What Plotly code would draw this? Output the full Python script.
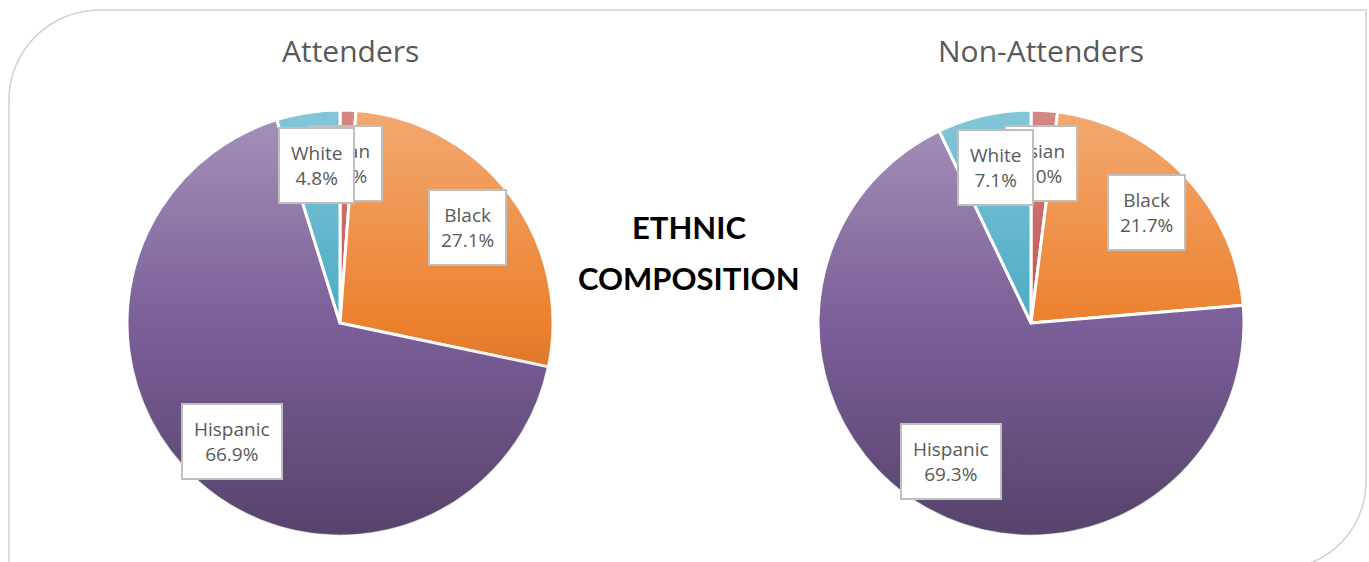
import math
import base64
import plotly.graph_objects as go

W, H = 1369, 562

categories = ["Asian", "Black", "Hispanic", "White"]
attenders = [1.2, 27.1, 66.9, 4.8]
non_attenders = [2.0, 21.7, 69.3, 7.1]
titles = ["Attenders", "Non-Attenders"]
center_title = ["ETHNIC", "COMPOSITION"]
colors = ["#C0504D", "#EC812E", "#7B5F99", "#4AABC6"]

FONT = "'Open Sans', sans-serif"
BOLD_FONT = "Lato, sans-serif"
GRAY = "#595959"

pies = [
    dict(vals=attenders, cx=340, cy=323, r=213, title=titles[0]),
    dict(vals=non_attenders, cx=1031, cy=323, r=213, title=titles[1]),
]

# subtle vertical shading overlay (light top, dark bottom), clipped to the pie circle
svg = (
    '<svg xmlns="http://www.w3.org/2000/svg" viewBox="0 0 100 100" preserveAspectRatio="none">'
    '<defs><linearGradient id="g" x1="0" y1="0" x2="0" y2="1">'
    '<stop offset="0" stop-color="#ffffff" stop-opacity="0.32"/>'
    '<stop offset="0.5" stop-color="#ffffff" stop-opacity="0"/>'
    '<stop offset="0.5" stop-color="#000000" stop-opacity="0"/>'
    '<stop offset="1" stop-color="#000000" stop-opacity="0.30"/>'
    '</linearGradient></defs>'
    '<circle cx="50" cy="50" r="49.8" fill="url(#g)"/></svg>'
)
svg_uri = "data:image/svg+xml;base64," + base64.b64encode(svg.encode()).decode()

fig = go.Figure()
annotations = []
images = []
for p in pies:
    x0, x1 = (p["cx"] - p["r"]) / W, (p["cx"] + p["r"]) / W
    y0, y1 = 1 - (p["cy"] + p["r"]) / H, 1 - (p["cy"] - p["r"]) / H
    fig.add_trace(go.Pie(
        labels=categories, values=p["vals"], sort=False, direction="clockwise",
        rotation=0, marker=dict(colors=colors, line=dict(color="white", width=3)),
        textinfo="none", hoverinfo="label+percent", showlegend=False,
        domain=dict(x=[x0, x1], y=[y0, y1]),
    ))
    images.append(dict(source=svg_uri, xref="paper", yref="paper", x=x0, y=y1,
                       sizex=x1 - x0, sizey=y1 - y0, xanchor="left", yanchor="top",
                       sizing="stretch", layer="above"))
    annotations.append(dict(
        x=(p["cx"] + 10) / W, y=1 - 50 / H, xref="paper", yref="paper",
        text=p["title"], showarrow=False, font=dict(family=FONT, size=30, color=GRAY),
        xanchor="center", yanchor="middle"))
    total = sum(p["vals"])
    cum = 0
    for cat, v in zip(categories, p["vals"]):
        mid = (cum + v / 2) / total
        cum += v
        ang = 2 * math.pi * mid
        frac = 0.75
        lx = p["cx"] + frac * p["r"] * math.sin(ang)
        ly = p["cy"] - frac * p["r"] * math.cos(ang)
        annotations.append(dict(
            x=lx / W, y=1 - ly / H, xref="paper", yref="paper",
            text=f"{cat}<br>{v:.1f}%", showarrow=False,
            font=dict(family=FONT, size=19, color=GRAY),
            bgcolor="white", bordercolor="#BFBFBF", borderwidth=2, borderpad=11,
            xanchor="center", yanchor="middle", align="center"))

for txt, yy in zip(center_title, [227, 278]):
    annotations.append(dict(
        x=689 / W, y=1 - yy / H, xref="paper", yref="paper", text=f"<b>{txt}</b>",
        showarrow=False, font=dict(family=BOLD_FONT, size=31, color="black"),
        xanchor="center", yanchor="middle"))

def px(x, y):
    return f"{x / W:.5f},{1 - y / H:.5f}"

border_path = (
    f"M {px(9, 600)} L {px(9, 100)} C {px(9, 50)} {px(50, 10)} {px(100, 10)} "
    f"L {px(1366, 10)} L {px(1366, 480)} C {px(1366, 528)} {px(1330, 568)} {px(1280, 568)}"
)

fig.update_layout(
    width=W, height=H, margin=dict(l=0, r=0, t=0, b=0),
    paper_bgcolor="white", plot_bgcolor="white",
    annotations=annotations, images=images,
    shapes=[dict(type="path", path=border_path, xref="paper", yref="paper",
                 line=dict(color="#D0D0D0", width=1.5), layer="below")],
)

fig.write_html("out.html", config={"displayModeBar": False},
               post_script="document.body.style.margin='0';document.body.style.overflow='hidden';")
